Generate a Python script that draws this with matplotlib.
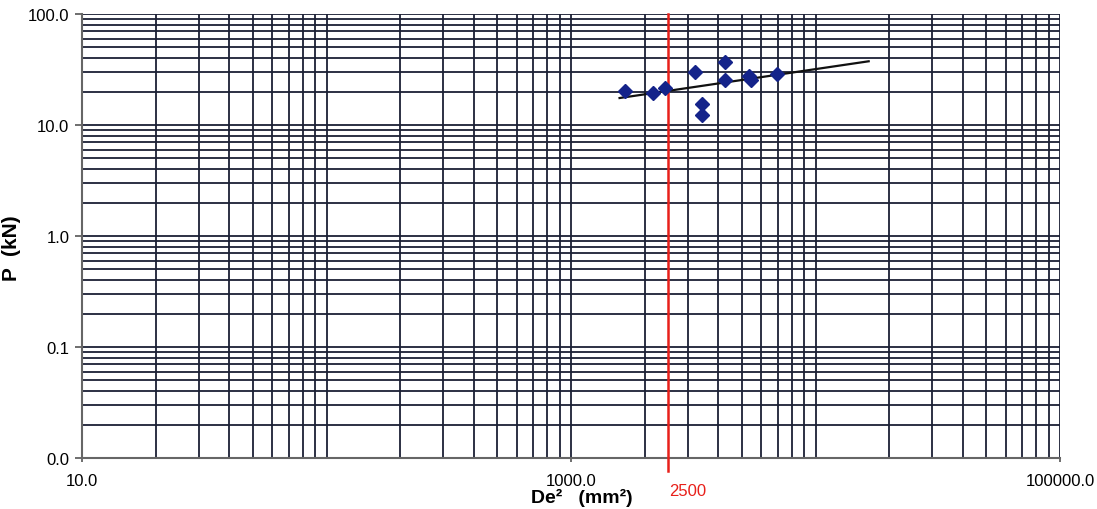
import matplotlib
matplotlib.use("Agg")
import matplotlib.pyplot as plt
from matplotlib.ticker import FixedLocator, LogLocator, NullFormatter, FixedFormatter
import numpy as np

# Data
de2_values = [1660, 2170, 2430, 3220, 3440, 3440, 4270, 4270, 5370, 5470, 6980]
p_values = [20.3, 19.5, 21.6, 30.1, 15.5, 12.3, 37.0, 25.5, 27.7, 25.5, 28.8]
trend_x = [1580, 16500]
trend_y = [17.5, 37.5]
limit_x = 2500
x_tick_values = [10, 1000, 100000]
x_tick_labels = ["10.0", "1000.0", "100000.0"]
y_tick_values = [0.01, 0.1, 1, 10, 100]
y_tick_labels = ["0.0", "0.1", "1.0", "10.0", "100.0"]

plt.rcParams['font.family'] = ['Liberation Sans', 'DejaVu Sans']

fig = plt.figure(figsize=(10.97, 5.10), dpi=100)
ax = fig.add_axes([82/1097, 51/510, (1060-82)/1097, (459-15)/510])

ax.set_xscale('log')
ax.set_yscale('log')
ax.set_xlim(10, 100000)
ax.set_ylim(0.01, 100)

grid_color = '#1b2035'
ax.xaxis.set_major_locator(FixedLocator(x_tick_values))
ax.xaxis.set_major_formatter(FixedFormatter(x_tick_labels))
ax.xaxis.set_minor_locator(LogLocator(base=10, subs=np.arange(1, 10), numticks=50))
ax.xaxis.set_minor_formatter(NullFormatter())
ax.yaxis.set_major_locator(FixedLocator(y_tick_values))
ax.yaxis.set_major_formatter(FixedFormatter(y_tick_labels))
ax.yaxis.set_minor_locator(LogLocator(base=10, subs=np.arange(1, 10), numticks=50))
ax.yaxis.set_minor_formatter(NullFormatter())

ax.grid(True, which='both', color=grid_color, linewidth=1.3)
ax.set_axisbelow(True)
ax.tick_params(which='minor', length=0)
ax.tick_params(which='major', length=5, width=1.2, color='#555555', labelsize=12, pad=4)
ax.tick_params(axis='x', which='major', length=3, pad=8)

for s in ['top', 'right']:
    ax.spines[s].set_visible(False)
for s in ['left', 'bottom']:
    ax.spines[s].set_color('#666666')
    ax.spines[s].set_linewidth(1.5)

ax.axvline(limit_x, color='#e8201a', linewidth=1.8, ymin=-0.029, clip_on=False, zorder=3)
ax.plot(trend_x, trend_y, color='#111111', linewidth=1.6, zorder=4)
ax.plot(de2_values, p_values, linestyle='none', marker='D', markersize=7,
        color='#14238a', markeredgecolor='#14238a', zorder=5)

ax.text(limit_x * 1.2, 0.0059, str(limit_x), color='#e8201a', fontsize=12,
        ha='center', va='top', transform=ax.transData)

ax.set_ylabel("P  (kN)", fontsize=15, fontweight='bold')
ax.yaxis.set_label_coords(-0.062, 0.475)
ax.set_xlabel("De\u00b2   (mm\u00b2)", fontsize=14, fontweight='bold')
ax.xaxis.set_label_coords(0.511, -0.068)

fig.savefig("out.png", dpi=100, facecolor='white')
